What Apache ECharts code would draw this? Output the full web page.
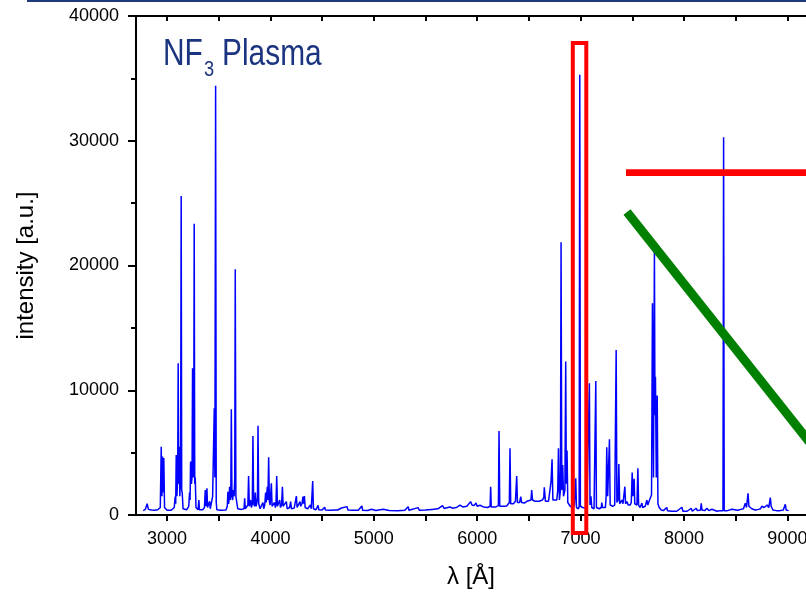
<!DOCTYPE html>
<html>
<head>
<meta charset="utf-8">
<title>NF3 Plasma spectrum</title>
<script src="https://cdn.jsdelivr.net/npm/echarts@6/dist/echarts.min.js"></script>
<style>
    html, body { margin: 0; padding: 0; background: #fff; }
    #spectrum { width: 806px; height: 593px; }
</style>
</head>
<body>
<div id="spectrum"></div>
<script>
// wavelength [Å] and intensity [a.u.]
var lambda = [
    2770, 2790, 2808, 2820, 2850, 2880, 2910, 2935, 2944, 2951, 2957, 2963, 2969, 2976, 3000, 3040,
    3070, 3079, 3084, 3089, 3096, 3103, 3108, 3113, 3118, 3124, 3131, 3137, 3142, 3147, 3155, 3190,
    3210, 3218, 3223, 3228, 3236, 3242, 3247, 3253, 3258, 3263, 3268, 3273, 3280, 3300, 3308, 3314,
    3345, 3362, 3370, 3377, 3386, 3392, 3405, 3412, 3418, 3435, 3441, 3450, 3457, 3463, 3470, 3476,
    3482, 3520, 3570, 3583, 3589, 3595, 3600, 3605, 3612, 3617, 3622, 3628, 3635, 3641, 3649, 3655,
    3660, 3666, 3675, 3684, 3720, 3745, 3751, 3757, 3775, 3782, 3789, 3796, 3802, 3809, 3816, 3825,
    3831, 3838, 3847, 3854, 3861, 3870, 3875, 3880, 3887, 3900, 3915, 3928, 3935, 3945, 3954, 3960,
    3970, 3976, 3983, 3990, 3997, 4009, 4016, 4030, 4040, 4048, 4054, 4061, 4068, 4080, 4090, 4097,
    4108, 4116, 4123, 4140, 4154, 4162, 4185, 4196, 4203, 4230, 4243, 4251, 4258, 4275, 4286, 4293,
    4305, 4315, 4321, 4329, 4336, 4360, 4378, 4387, 4395, 4403, 4409, 4416, 4440, 4461, 4468, 4500,
    4525, 4532, 4580, 4620, 4639, 4650, 4687, 4700, 4741, 4750, 4800, 4850, 4884, 4892, 4940, 4978,
    5020, 5090, 5150, 5230, 5300, 5332, 5340, 5429, 5440, 5500, 5560, 5620, 5665, 5680, 5736, 5760,
    5800, 5833, 5860, 5900, 5936, 5950, 5970, 5988, 6000, 6027, 6060, 6100, 6125, 6130, 6136, 6180,
    6205, 6211, 6218, 6260, 6285, 6300, 6311, 6317, 6324, 6350, 6370, 6382, 6389, 6410, 6421, 6430,
    6456, 6480, 6520, 6527, 6535, 6560, 6576, 6600, 6630, 6644, 6649, 6653, 6660, 6690, 6695, 6705,
    6714, 6724, 6732, 6750, 6770, 6779, 6786, 6795, 6805, 6811, 6818, 6827, 6835, 6848, 6856, 6862,
    6869, 6876, 6900, 6920, 6940, 6953, 6960, 6980, 6986, 6992, 6998, 7020, 7040, 7060, 7075, 7085,
    7091, 7100, 7108, 7130, 7147, 7153, 7180, 7200, 7205, 7212, 7240, 7247, 7253, 7262, 7270, 7279,
    7286, 7310, 7330, 7344, 7351, 7363, 7370, 7378, 7392, 7399, 7410, 7428, 7435, 7450, 7460, 7480,
    7490, 7499, 7506, 7512, 7518, 7524, 7545, 7554, 7561, 7575, 7593, 7600, 7625, 7641, 7650, 7673,
    7686, 7695, 7705, 7714, 7719, 7724, 7732, 7741, 7748, 7760, 7780, 7800, 7834, 7840, 7880, 7930,
    7980, 7990, 8030, 8070, 8080, 8118, 8130, 8160, 8167, 8174, 8200, 8222, 8232, 8240, 8270, 8280,
    8320, 8350, 8377, 8383, 8389, 8420, 8464, 8475, 8520, 8550, 8561, 8575, 8593, 8605, 8619, 8628,
    8641, 8655, 8673, 8690, 8720, 8740, 8752, 8764, 8775, 8790, 8805, 8820, 8835, 8843, 8852, 8860,
    8893, 8930, 8960, 8980, 8988, 9012
];
var intensity = [
    350, 450, 900, 450, 400, 380, 420, 600, 5480, 1500, 4680, 1800, 4570, 600, 380, 380,
    600, 1470, 900, 4810, 1500, 3000, 12170, 2500, 5480, 1500, 3000, 25580, 2000, 1800, 500, 420,
    700, 1800, 1200, 4280, 2500, 3000, 11760, 3000, 4000, 23340, 2500, 3000, 600, 420, 1200, 420,
    420, 600, 2000, 700, 2140, 600, 500, 1100, 500, 600, 1470, 1500, 8560, 3000, 34400, 1000,
    420, 380, 400, 700, 1870, 900, 1200, 2270, 1200, 2000, 8480, 1500, 1200, 2000, 1500, 3000,
    19700, 1500, 1470, 500, 450, 500, 1340, 500, 600, 800, 3130, 700, 600, 1200, 600, 900,
    6340, 900, 700, 1800, 700, 1000, 1400, 7160, 900, 500, 600, 1000, 500, 800, 1800, 1000,
    2270, 1200, 4630, 1100, 800, 2540, 700, 600, 1000, 600, 900, 3130, 700, 600, 1200, 600,
    800, 2270, 700, 600, 1070, 500, 600, 1070, 500, 550, 700, 1520, 600, 700, 1070, 700,
    900, 1470, 900, 1520, 600, 500, 550, 800, 500, 600, 2730, 500, 420, 780, 420, 400,
    620, 400, 380, 400, 540, 400, 560, 400, 670, 400, 380, 380, 720, 380, 360, 460,
    360, 460, 360, 350, 380, 670, 380, 590, 380, 400, 450, 500, 750, 520, 640, 550,
    600, 800, 650, 700, 1070, 800, 750, 960, 700, 780, 650, 600, 700, 2270, 650, 650,
    750, 6740, 700, 700, 720, 800, 1000, 5350, 900, 900, 1100, 3130, 1000, 1000, 1470, 1000,
    960, 1100, 1200, 2000, 1200, 1100, 1200, 1100, 1200, 1400, 2220, 2270, 1100, 1100, 1200, 1000,
    2670, 4470, 1200, 1100, 1200, 2000, 5350, 1200, 2000, 21870, 2000, 4010, 1500, 2000, 12300, 2500,
    5160, 1000, 700, 600, 800, 2940, 600, 500, 700, 35290, 700, 600, 550, 600, 700, 10560,
    800, 1500, 600, 500, 10750, 600, 500, 600, 990, 600, 600, 1500, 5430, 1500, 1500, 6070,
    800, 700, 800, 13230, 1000, 1200, 4090, 900, 1000, 1200, 900, 2270, 900, 1070, 800, 800,
    1000, 3400, 1500, 1500, 2900, 900, 800, 3740, 800, 600, 960, 600, 700, 1200, 800, 1340,
    1600, 16980, 3000, 21390, 8000, 11090, 3000, 9570, 900, 600, 400, 350, 600, 350, 300, 300,
    620, 300, 300, 530, 300, 540, 350, 400, 940, 400, 350, 540, 600, 350, 460, 300,
    300, 350, 350, 30290, 350, 350, 460, 350, 380, 450, 540, 500, 940, 600, 1740, 700,
    860, 500, 460, 400, 450, 500, 700, 860, 600, 700, 800, 600, 1390, 700, 860, 400,
    350, 350, 400, 860, 400, 350
];
var xTickLabels = [3000, 4000, 5000, 6000, 7000, 8000, 9000];
var xTickMarks = [3000, 3500, 4000, 4500, 5000, 5500, 6000, 6500, 7000, 7500, 8000, 8500, 9000];
var yTickLabels = [0, 10000, 20000, 30000, 40000];

var spectrumCharts = function () {
    var myChart = echarts.init(document.getElementById('spectrum'));
    var points = [];
    lambda.forEach(function (l, i) {
        points.push([l, intensity[i]]);
    });
    var axisFont = 'Liberation Sans, Arial, sans-serif';
    var navy = '#1b3480';
    // plain numbers, no thousands separator
    var plain = function (v) { return String(v); };

    var option = {
        animation: false,
        backgroundColor: '#fff',
        grid: { left: 136, top: 16, right: 0, bottom: 78, outerBoundsMode: 'none', containLabel: false },
        xAxis: [{
            type: 'value',
            position: 'bottom',
            min: 2700,
            max: 9180,
            name: 'λ [Å]',
            nameLocation: 'middle',
            nameGap: 50,
            nameTextStyle: { fontSize: 24, color: '#000', fontFamily: axisFont },
            axisLine: { lineStyle: { color: '#000', width: 2 } },
            axisTick: { length: 6, lineStyle: { color: '#000', width: 2 }, customValues: xTickMarks },
            axisLabel: { fontSize: 18, color: '#000', fontFamily: axisFont, margin: 15, customValues: xTickLabels, formatter: plain },
            splitLine: { show: false }
        }, {
            type: 'value',
            position: 'top',
            min: 2700,
            max: 9180,
            axisLine: { lineStyle: { color: '#000', width: 2 } },
            axisTick: { inside: true, length: 5, lineStyle: { color: '#000', width: 2 }, customValues: xTickMarks },
            axisLabel: { show: false },
            splitLine: { show: false }
        }],
        yAxis: {
            type: 'value',
            min: 0,
            max: 40000,
            interval: 10000,
            name: 'intensity [a.u.]',
            nameLocation: 'middle',
            nameRotate: 90,
            nameGap: 98,
            nameTextStyle: { fontSize: 24, color: '#000', fontFamily: axisFont },
            axisLine: { show: true, lineStyle: { color: '#000', width: 2 } },
            axisTick: { length: 8, lineStyle: { color: '#000', width: 2 } },
            minorTick: { show: true, splitNumber: 2, length: 5, lineStyle: { color: '#000', width: 2 } },
            axisLabel: { fontSize: 18, color: '#000', fontFamily: axisFont, margin: 17, customValues: yTickLabels, formatter: plain },
            splitLine: { show: false }
        },
        series: [{
            name: 'NF3',
            type: 'line',
            data: points,
            showSymbol: false,
            symbol: 'none',
            lineStyle: { color: '#0000ff', width: 1.5 }
        }],
        graphic: [
            // slide header line
            { type: 'rect', left: 27, top: 0, shape: { width: 779, height: 2 }, style: { fill: '#1f3a7a' } },
            // title NF3 Plasma (narrowed Arial)
            { type: 'text', x: 163, y: 55.5, scaleX: 0.83, style: { text: 'NF', font: '36px Liberation Sans, Arial, sans-serif', fill: navy, verticalAlign: 'middle' } },
            { type: 'text', x: 204, y: 70, scaleX: 0.83, style: { text: '3', font: '22px Liberation Sans, Arial, sans-serif', fill: navy, verticalAlign: 'middle' } },
            { type: 'text', x: 222, y: 55.5, scaleX: 0.83, style: { text: 'Plasma', font: '36px Liberation Sans, Arial, sans-serif', fill: navy, verticalAlign: 'middle' } },
            // red marker around the 7000 Å line
            { type: 'rect', shape: { x: 572.8, y: 43, width: 13.5, height: 490 }, style: { fill: 'none', stroke: '#ff0000', lineWidth: 4 }, z: 10 },
            // red horizontal bar
            { type: 'line', shape: { x1: 626, y1: 172.7, x2: 820, y2: 172.7 }, style: { stroke: '#ff0000', lineWidth: 6.7 }, z: 10 },
            // green slanted bar
            { type: 'line', shape: { x1: 627, y1: 212, x2: 830, y2: 468 }, style: { stroke: '#008000', lineWidth: 9 }, z: 10 }
        ]
    };
    myChart.setOption(option);
};
spectrumCharts();
</script>
</body>
</html>
